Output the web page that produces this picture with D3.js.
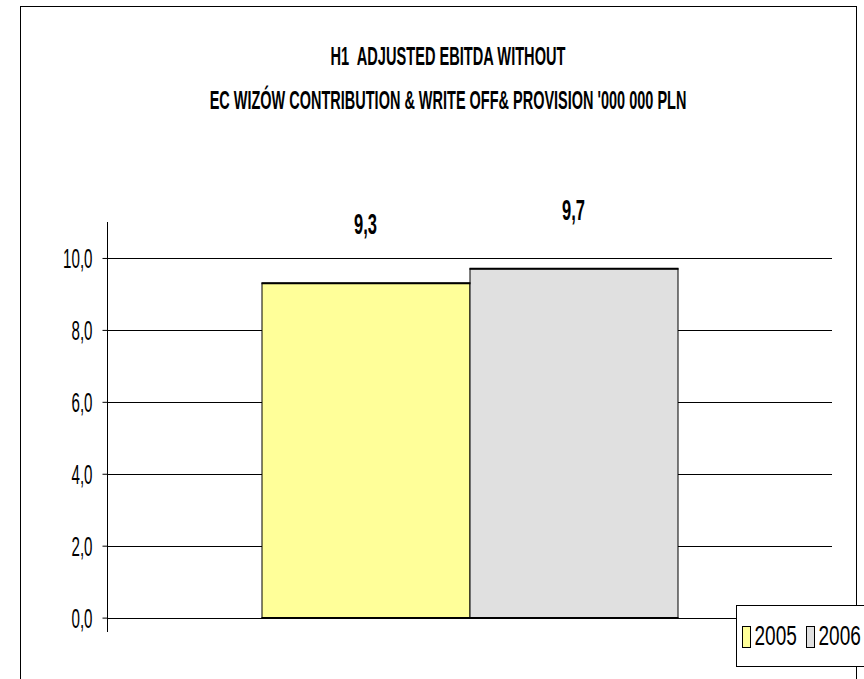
<!DOCTYPE html>
<html>
<head>
<meta charset="utf-8">
<script src="https://cdn.jsdelivr.net/npm/d3@7"></script>
<style>
  html, body { margin: 0; padding: 0; background: #fff; }
  svg { display: block; }
  text { font-family: "Liberation Sans", Arial, sans-serif; fill: #000; }
</style>
</head>
<body>
<svg id="chart" width="864" height="679"></svg>
<script>
// Chart data
const titleLines = ["H1  ADJUSTED EBITDA WITHOUT", "EC WIZÓW CONTRIBUTION & WRITE OFF& PROVISION '000 000 PLN"];
const categories = ["H1"];
const seriesNames = ["2005", "2006"];
const seriesValues = [9.3, 9.7];
const seriesLabels = ["9,3", "9,7"];
const seriesColors = ["#FFFF99", "#E0E0E0"];
const yTicks = [0, 2, 4, 6, 8, 10];

const svg = d3.select("#chart");

// narrow-face look: squeeze glyphs horizontally around the anchor point
function condensed(sel, x, y, sx) {
  return sel.attr("x", 0).attr("y", 0)
    .attr("transform", `translate(${x},${y}) scale(${sx},1)`);
}

// outer chart frame
svg.append("rect")
  .attr("x", 20.5).attr("y", 6.5)
  .attr("width", 836).attr("height", 700)
  .attr("fill", "#fff").attr("stroke", "#000").attr("stroke-width", 1);

// title, squeezed to a narrow width
const titleWidths = [235, 477];
svg.selectAll("text.title").data(titleLines).join("text")
  .attr("class", "title")
  .attr("text-anchor", "middle")
  .attr("font-size", 25).attr("font-weight", "bold")
  .style("white-space", "pre")
  .text(d => d)
  .each(function(d, i) {
    const w = this.getComputedTextLength();
    condensed(d3.select(this), 448, 65 + i * 44, titleWidths[i] / w);
  });

// plot area
const plot = { left: 107, right: 832, top: 222, bottom: 632 };

const y = d3.scaleLinear().domain([-0.4, 11]).range([plot.bottom, plot.top]);
const x0 = d3.scaleBand().domain(categories).range([plot.left, plot.right]);
const groupWidth = 416;
const x1 = d3.scaleBand().domain(seriesNames)
  .range([x0(categories[0]) + x0.bandwidth() / 2 - groupWidth / 2,
          x0(categories[0]) + x0.bandwidth() / 2 + groupWidth / 2])
  .padding(0);

// gridlines
svg.append("g").selectAll("line").data(yTicks).join("line")
  .attr("x1", plot.left).attr("x2", plot.right)
  .attr("y1", d => Math.round(y(d)) + 0.5).attr("y2", d => Math.round(y(d)) + 0.5)
  .attr("stroke", "#000").attr("stroke-width", 1);

// bars
const data = seriesNames.map((s, i) => ({ s, v: seriesValues[i], label: seriesLabels[i], color: seriesColors[i] }));
const bars = svg.append("g");
bars.selectAll("rect").data(data).join("rect")
  .attr("x", d => x1(d.s) + 0.5)
  .attr("y", d => y(d.v))
  .attr("width", x1.bandwidth())
  .attr("height", d => y(0) - y(d.v))
  .attr("fill", d => d.color)
  .attr("stroke", "#000").attr("stroke-width", 1);
// heavier top and base edges of each bar
bars.selectAll("line.top").data(data).join("line")
  .attr("class", "top")
  .attr("x1", d => x1(d.s)).attr("x2", d => x1(d.s) + x1.bandwidth() + 1)
  .attr("y1", d => y(d.v)).attr("y2", d => y(d.v))
  .attr("stroke", "#000").attr("stroke-width", 2);
bars.selectAll("line.base").data(data).join("line")
  .attr("class", "base")
  .attr("x1", d => x1(d.s)).attr("x2", d => x1(d.s) + x1.bandwidth() + 1)
  .attr("y1", y(0) + 0.5).attr("y2", y(0) + 0.5)
  .attr("stroke", "#000").attr("stroke-width", 2);

// value labels
svg.append("g").selectAll("text").data(data).join("text")
  .attr("text-anchor", "middle")
  .attr("font-size", 29).attr("font-weight", "bold")
  .text(d => d.label)
  .each(function(d) {
    condensed(d3.select(this), x1(d.s) + x1.bandwidth() / 2, y(d.v) - 49, 0.57);
  });

// y axis
const yAxis = d3.axisLeft(y).tickValues(yTicks).tickSize(5)
  .tickFormat(d => d3.format(".1f")(d).replace(".", ","));
const ag = svg.append("g").attr("transform", `translate(${plot.left + 0.5},0)`).call(yAxis);
ag.select(".domain").attr("d", `M0,${plot.top}V${plot.bottom}`).attr("stroke", "#000");
ag.selectAll(".tick line").attr("stroke", "#000");
ag.selectAll(".tick text")
  .attr("font-size", 27).attr("dy", null)
  .attr("font-family", "'Liberation Sans', Arial, sans-serif").attr("fill", "#000")
  .each(function() { condensed(d3.select(this), -15, 10, 0.56); });

// legend
const lg = svg.append("g").attr("transform", "translate(736.5,605.5)");
lg.append("rect").attr("width", 140).attr("height", 61).attr("fill", "#fff").attr("stroke", "#000");
const items = lg.selectAll("g").data(data).join("g")
  .attr("transform", (d, i) => `translate(${6 + i * 64},21)`);
items.append("rect").attr("width", 8).attr("height", 21).attr("fill", d => d.color).attr("stroke", "#000");
items.append("text").attr("font-size", 28).text(d => d.s)
  .each(function() { condensed(d3.select(this), 12, 18, 0.68); });
</script>
</body>
</html>
